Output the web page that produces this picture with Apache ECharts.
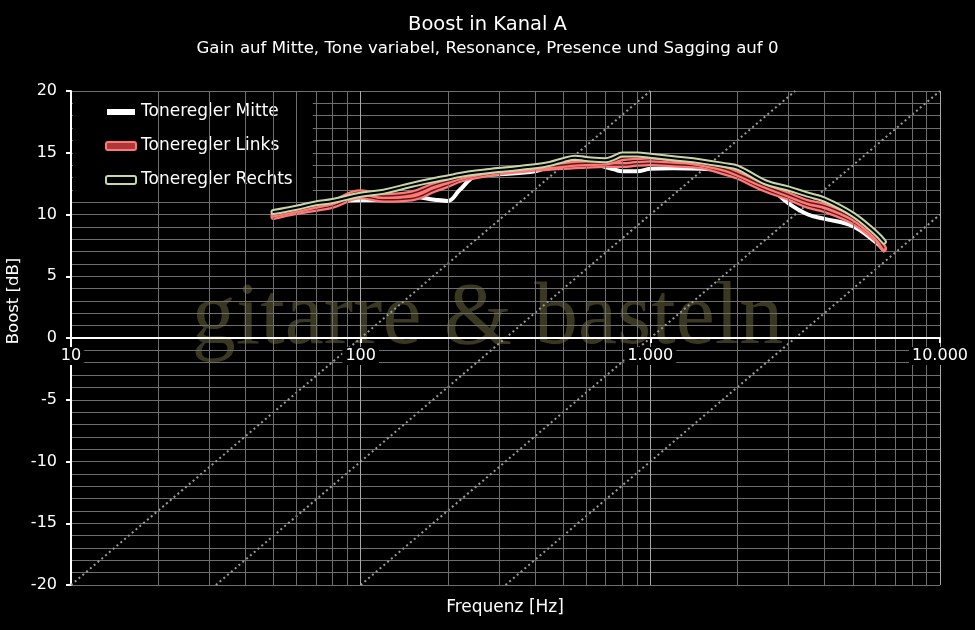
<!DOCTYPE html>
<html><head><meta charset="utf-8">
<script src="https://cdn.jsdelivr.net/npm/echarts@6/dist/echarts.min.js"></script>
<style>html,body{margin:0;padding:0;background:#000;}#c{width:975px;height:630px;}</style>
</head><body><div id="c"></div>
<script>
// ---- data ----
const freqs   = [50,60,70,80,100,120,150,180,200,220,250,300,400,450,500,550,600,700,750,800,900,1000,1200,1500,1800,2000,2500,3000,3500,4000,5000,6000,6400];
const mitte   = [10.1,10.6,10.9,11.05,11.17,11.2,11.45,11.2,11.1,12.0,13.1,13.25,13.5,13.9,14.3,14.4,14.3,13.85,13.65,13.5,13.5,13.7,13.75,13.7,13.55,13.25,12.4,10.9,10.0,9.65,9.05,7.75,7.1];
const links   = [10.0,10.35,10.7,11.0,11.8,11.5,11.7,12.4,12.7,13.0,13.3,13.6,13.8,13.9,14.0,14.1,14.15,14.2,14.35,14.55,14.65,14.7,14.5,14.1,13.7,13.3,12.3,11.6,11.0,10.7,9.7,8.2,7.3];
const links2  = [9.8,10.2,10.45,10.7,11.45,11.2,11.3,12.0,12.4,12.8,13.1,13.4,13.7,13.78,13.85,13.9,13.95,14.0,14.0,14.0,14.1,14.15,14.05,13.9,13.4,13.05,12.0,11.35,10.7,10.35,9.4,8.0,7.2];
const rechts  = [10.2,10.55,10.9,11.1,11.6,11.85,12.4,12.8,13.0,13.2,13.4,13.6,13.9,14.1,14.4,14.6,14.5,14.4,14.6,14.85,14.85,14.75,14.55,14.3,14.0,13.8,12.6,12.1,11.6,11.2,10.0,8.5,7.8];
const xTickValues = [10,100,1000,10000];
const xTickLabels = ['10','100','1.000','10.000'];
const guideStartFreqs = [10,31.6228,100,316.228]; // dotted 20 dB/decade guides start at -20 dB
const guideSlope = 20; // dB per decade

const X_MIN = 10, X_MAX = 10000, Y_MIN = -20, Y_MAX = 20;
const GRID_TOP = 91, GRID_BOTTOM = 45, H = 630;

function pairs(ys){ return freqs.map((f,i)=>[f, ys[i]]); }

function guideLine(f0){
  const fEnd = Math.min(X_MAX, f0*Math.pow(10,(Y_MAX-Y_MIN)/guideSlope));
  const yEnd = Y_MIN + guideSlope*Math.log10(fEnd/f0);
  return [[f0, Y_MIN],[fEnd, yEnd]];
}

const minorX = [], majorX = [];
for (let d = 10; d < X_MAX; d *= 10){
  for (let m = 2; m <= 9; m++) minorX.push({xAxis: d*m});
  majorX.push({xAxis: d*10});
}

const series = [];
series.push({
  type:'line', name:'_grid', data:[], silent:true, symbol:'none', z:1,
  markLine:{ silent:true, symbol:'none', label:{show:false}, animation:false,
    data: minorX.map(o=>Object.assign({lineStyle:{color:'#6e6e6e',width:1,type:'solid'}},o))
      .concat(majorX.map(o=>Object.assign({lineStyle:{color:'#a8a8a8',width:1,type:'solid'}},o)))
  }
});
guideStartFreqs.forEach((f0,i)=>{
  series.push({type:'line', name:'_guide'+i, data:guideLine(f0), symbol:'none', silent:true, z:1,
    lineStyle:{color:'#9a9a9a', width:2, type:[2,3]}});
});
function curve(name, data, color, width, z){
  return {type:'line', name, data:pairs(data), symbol:'none', showSymbol:false, smooth:0.4, z,
    lineStyle:{color, width, cap:'round', join:'round'}, itemStyle:{color}};
}
series.push(curve('Toneregler Mitte', mitte, '#ffffff', 4, 3));
series.push(curve('_links2', links2, '#ff7878', 6, 4));
series.push(curve('_links2c', links2, '#5a1a1a', 1.5, 4));
series.push(curve('Toneregler Links', links, '#ff7878', 6, 5));
series.push(curve('_linksc', links, '#5a1a1a', 1.5, 5));
series.push(curve('Toneregler Rechts', rechts, '#c6d7a6', 6, 6));
series.push(curve('_rechtsc', rechts, '#000000', 2, 6));

// x axis drawn at y = 0: offset from the bottom of the plot
const plotH = H - GRID_TOP - GRID_BOTTOM;
const zeroOffset = -plotH * (0 - Y_MIN) / (Y_MAX - Y_MIN);

const FONT = 'DejaVu Sans';
const chart = echarts.init(document.getElementById('c'));
chart.setOption({
  animation:false,
  backgroundColor:'#000',
  textStyle:{fontFamily:FONT},
  title:{
    text:'Boost in Kanal A',
    subtext:'Gain auf Mitte, Tone variabel, Resonance, Presence und Sagging auf 0',
    left:'center', top:10, itemGap:5,
    textStyle:{color:'#fff', fontSize:19.5, fontWeight:'normal', fontFamily:FONT},
    subtextStyle:{color:'#fff', fontSize:16.6, fontFamily:FONT}
  },
  grid:{left:71, right:35, top:GRID_TOP, bottom:GRID_BOTTOM, containLabel:false},
  legend:{
    orient:'vertical', left:73, top:93, padding:[10,20,7,32],
    backgroundColor:'#000', itemWidth:30, itemHeight:8, itemGap:16,
    textStyle:{color:'#fff', fontSize:17, lineHeight:18, fontFamily:FONT},
    data:[
      {name:'Toneregler Mitte', icon:'rect', itemStyle:{color:'#fff', borderColor:'#000', borderWidth:2}},
      {name:'Toneregler Links', icon:'roundRect', itemStyle:{color:'#b03838', borderColor:'#ff7878', borderWidth:2}},
      {name:'Toneregler Rechts', icon:'roundRect', itemStyle:{color:'#000', borderColor:'#c6d7a6', borderWidth:2}}
    ]
  },
  graphic:[
    {type:'text', left:'center', top:276, z:-10, silent:true,
      style:{text:'gitarre & basteln', fill:'#3a3820', font:'88px "Liberation Serif"'}},
    {type:'text', x:505, y:608, silent:true,
      style:{text:'Frequenz [Hz]', fill:'#fff', font:'17px "DejaVu Sans"', align:'center', verticalAlign:'middle'}},
    {type:'text', x:14, y:301, rotation:Math.PI/2, silent:true,
      style:{text:'Boost [dB]', fill:'#fff', font:'16.5px "DejaVu Sans"', align:'center', verticalAlign:'middle'}}
  ],
  xAxis:{
    type:'log', logBase:10, min:X_MIN, max:X_MAX, z:8, position:'bottom', offset:zeroOffset,
    axisLine:{onZero:false, lineStyle:{color:'#fff', width:2}},
    axisTick:{show:true, length:5, lineStyle:{color:'#fff', width:2}},
    axisLabel:{color:'#fff', fontSize:16, margin:9, backgroundColor:'#000', padding:[1,3],
      formatter:(v)=>{const i = xTickValues.indexOf(Math.round(v)); return i>=0 ? xTickLabels[i] : '';}},
    splitLine:{show:false}
  },
  yAxis:{
    type:'value', min:Y_MIN, max:Y_MAX, interval:5, z:0,
    axisLine:{show:true, onZero:false, lineStyle:{color:'#fff', width:2}},
    axisTick:{show:true, length:5, lineStyle:{color:'#fff', width:2}},
    axisLabel:{color:'#fff', fontSize:16, margin:14},
    splitLine:{show:true, lineStyle:{color:'#6e6e6e', width:1}},
    minorTick:{show:false},
    minorSplitLine:{show:true, lineStyle:{color:'#6e6e6e', width:1}}
  },
  series
});
</script></body></html>
